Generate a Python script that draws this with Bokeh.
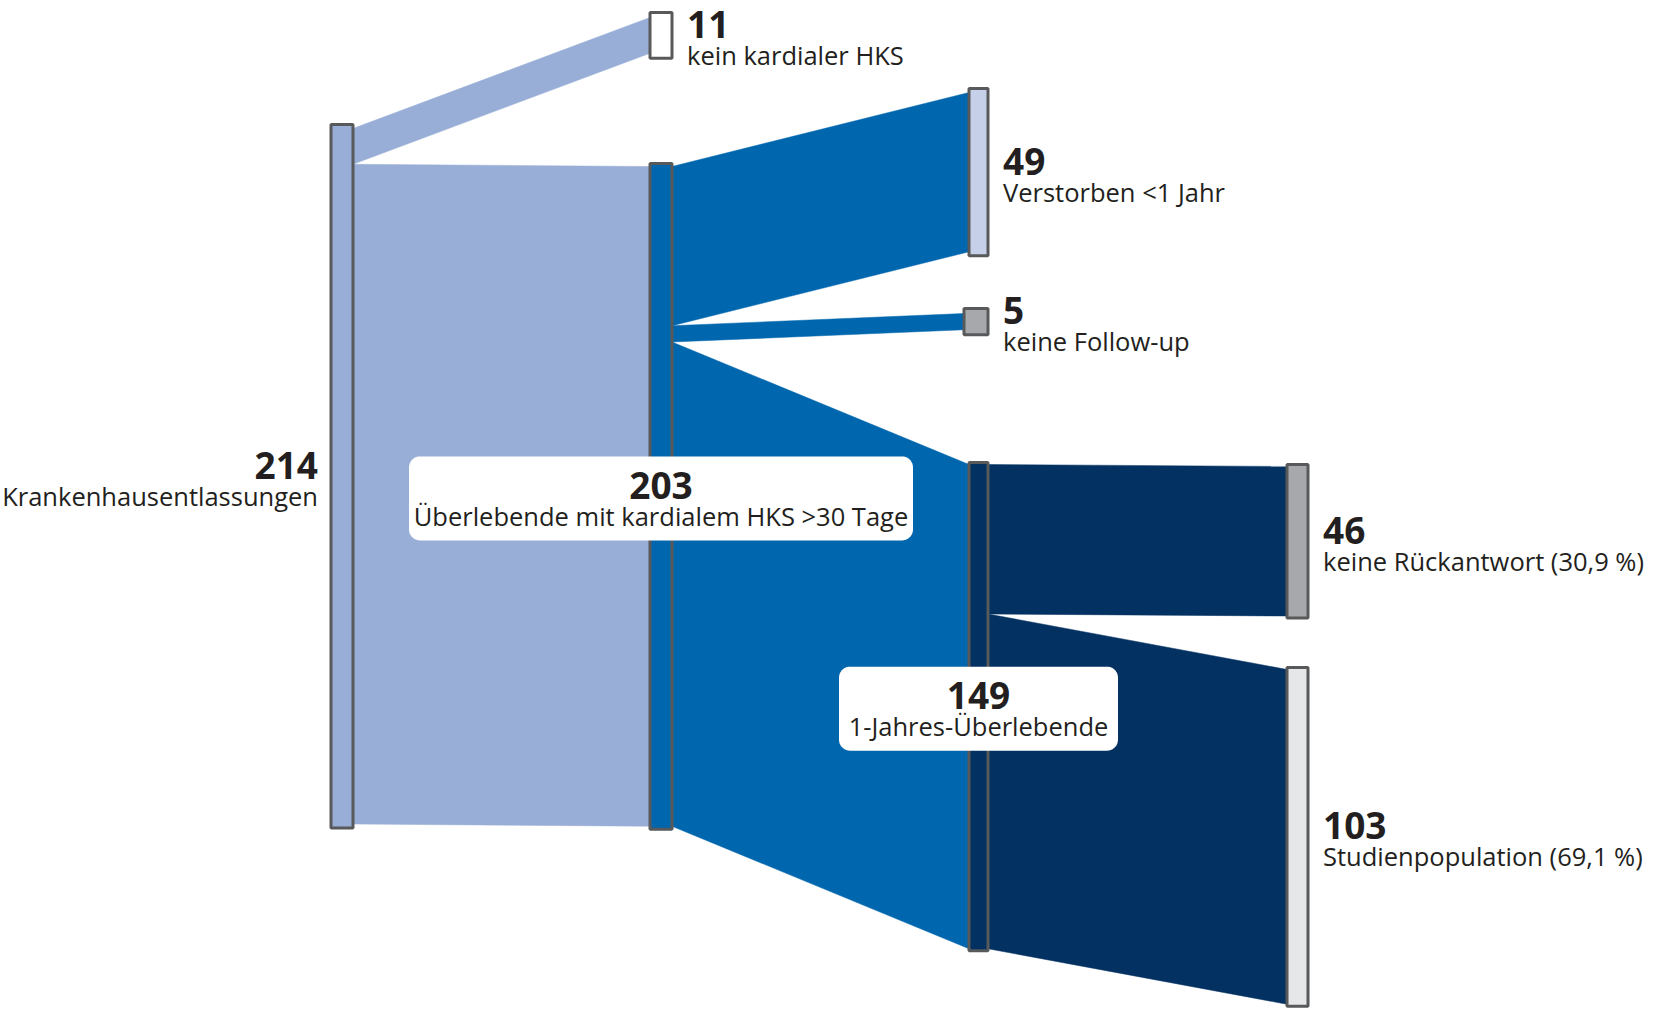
import numpy as np
from bokeh.plotting import figure
from bokeh.models import Range1d, ColumnDataSource
from bokeh.core.properties import value
from bokeh.embed import file_html
from bokeh.resources import INLINE

# ---------------- data ----------------
node_values = [214, 11, 203, 49, 5, 149, 46, 103]
node_labels = [
    "Krankenhausentlassungen",
    "kein kardialer HKS",
    "Überlebende mit kardialem HKS >30 Tage",
    "Verstorben <1 Jahr",
    "keine Follow-up",
    "1-Jahres-Überlebende",
    "keine Rückantwort (30,9 %)",
    "Studienpopulation (69,1 %)",
]
link_sources = [0, 0, 2, 2, 2, 5, 5]
link_targets = [1, 2, 3, 4, 5, 6, 7]
link_values = [11, 203, 49, 5, 149, 46, 103]

# ---------------- layout / style ----------------
K = 3.25  # pixels per person
node_x = [330.5, 649.5, 649.5, 968.5, 963.5, 968.5, 1286.5, 1286.5]
node_w = [22, 22, 22, 19, 24, 19, 21, 21]
node_flow_top = [128, 17, 166, 92, 313, 464, 466, 669]
node_pad = [4, 5, 3, 4, 5, 2, 2, 2]
node_fill = ["#98aed6", "#ffffff", "#0066ae", "#c6d0e8", "#a7a8ab",
             "#033161", "#a7a8ab", "#e6e7e8"]
label_side = ["left", "right", "box", "right", "right", "box", "right", "right"]
box_width = {2: 504, 5: 279}
link_color_by_source = {0: "#98aed6", 2: "#0066ae", 5: "#033161"}
STROKE = "#58595b"
TEXT = "#231f20"
FONT = "Open Sans"

W, H = 1650, 1009
p = figure(width=W, height=H, output_backend="svg", toolbar_location=None,
           x_range=Range1d(0, W), y_range=Range1d(H, 0),
           min_border=0, background_fill_color="white")
p.axis.visible = False
p.grid.visible = False
p.outline_line_color = None

# ---------------- links ----------------
out_off = [0.0] * len(node_values)
in_off = [0.0] * len(node_values)
lxs, lys, lcols = [], [], []
for s, t, v in zip(link_sources, link_targets, link_values):
    x0 = node_x[s] + node_w[s]
    x1 = node_x[t]
    ys0 = node_flow_top[s] + out_off[s]
    ys1 = ys0 + v * K
    yt0 = node_flow_top[t] + in_off[t]
    yt1 = yt0 + v * K
    out_off[s] += v * K
    in_off[t] += v * K
    lxs.append([x0, x1, x1, x0])
    lys.append([ys0, yt0, yt1, ys1])
    lcols.append(link_color_by_source[s])
p.patches(xs=lxs, ys=lys, fill_color=lcols, line_color=lcols, line_width=0.5)

# ---------------- nodes ----------------
left, right, top, bottom, centers = [], [], [], [], []
for i, v in enumerate(node_values):
    t0 = node_flow_top[i] - node_pad[i]
    b0 = node_flow_top[i] + v * K + node_pad[i]
    left.append(node_x[i]); right.append(node_x[i] + node_w[i])
    top.append(t0); bottom.append(b0)
    centers.append((t0 + b0) / 2)
p.quad(left=left, right=right, top=top, bottom=bottom, fill_color=node_fill,
       line_color=STROKE, line_width=3)


# ---------------- label boxes ----------------
def rounded_rect(x0, y0, x1, y1, r, n=10):
    xs, ys = [], []
    for cx, cy, a0, a1 in [(x0 + r, y0 + r, 180, 270), (x1 - r, y0 + r, 270, 360),
                           (x1 - r, y1 - r, 0, 90), (x0 + r, y1 - r, 90, 180)]:
        for a in np.linspace(np.radians(a0), np.radians(a1), n):
            xs.append(cx + r * np.cos(a)); ys.append(cy + r * np.sin(a))
    return xs, ys

bxs, bys = [], []
for i, w in box_width.items():
    cx = node_x[i] + node_w[i] / 2
    xs, ys = rounded_rect(cx - w / 2, centers[i] - 40, cx + w / 2, centers[i] + 44, 11)
    bxs.append(xs); bys.append(ys)
p.patches(xs=bxs, ys=bys, fill_color="white", line_color=None)

# ---------------- texts ----------------
NUM_DY, LAB_DY = -11, 19.5
for side, align, offset in [("left", "right", -13), ("right", "left", 15), ("box", "center", None)]:
    idx = [i for i in range(len(node_values)) if label_side[i] == side]
    if side == "left":
        tx = [node_x[i] + offset for i in idx]
    elif side == "right":
        tx = [node_x[i] + node_w[i] + offset for i in idx]
    else:
        tx = [node_x[i] + node_w[i] / 2 for i in idx]
    src = ColumnDataSource(dict(
        x=tx,
        yn=[centers[i] + NUM_DY for i in idx],
        yl=[centers[i] + LAB_DY for i in idx],
        num=[str(node_values[i]) for i in idx],
        lab=[node_labels[i] for i in idx],
    ))
    p.text(x="x", y="yn", text="num", source=src, text_font=value(FONT),
           text_font_size="37px", text_font_style="bold", text_color=TEXT,
           text_align=align, text_baseline="alphabetic")
    p.text(x="x", y="yl", text="lab", source=src, text_font=value(FONT),
           text_font_size="25.5px", text_color=TEXT,
           text_align=align, text_baseline="alphabetic")

open("out.html", "w").write(file_html(p, INLINE))
